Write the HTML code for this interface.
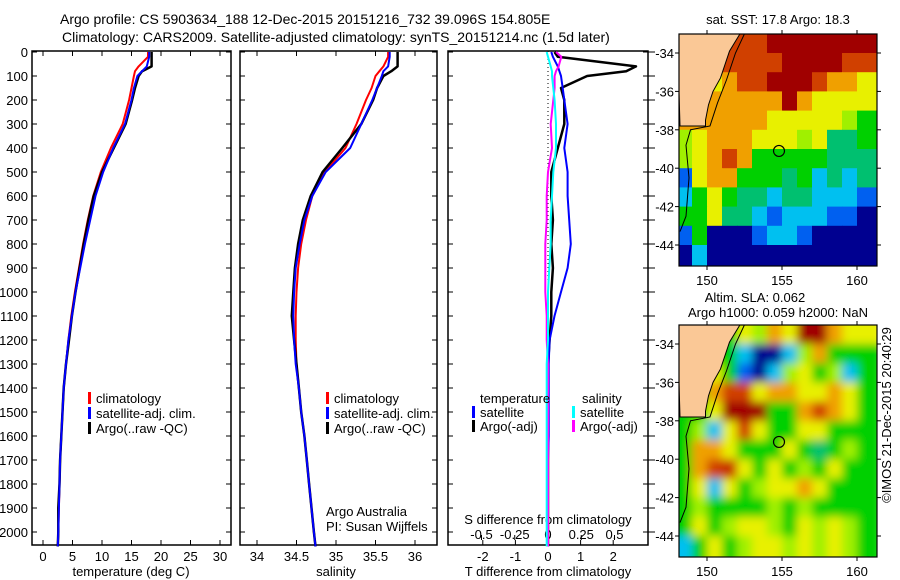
<!DOCTYPE html>
<html><head><meta charset="utf-8"><style>
body{margin:0;background:#fff}
svg{display:block;font-family:"Liberation Sans",sans-serif}
text{fill:#000}
</style></head><body>
<svg id="s" width="900" height="580" viewBox="0 0 900 580" xmlns="http://www.w3.org/2000/svg">
<defs>
<filter id="blur" x="-10%" y="-10%" width="120%" height="120%"><feGaussianBlur stdDeviation="4.5"/></filter>
<clipPath id="clip1"><rect x="679" y="34" width="198" height="232"/></clipPath>
<clipPath id="clip2"><rect x="679" y="325" width="198" height="232"/></clipPath>
</defs>
<text x="60" y="24" font-size="14">Argo profile: CS 5903634_188 12-Dec-2015 20151216_732 39.096S 154.805E</text>
<text x="62" y="42" font-size="14">Climatology: CARS2009. Satellite-adjusted climatology: synTS_20151214.nc (1.5d later)</text>
<g id="g"></g>
</svg>
<script>
// ---- data ----
const depthTicks=[0,100,200,300,400,500,600,700,800,900,1000,1100,1200,1300,1400,1500,1600,1700,1800,1900,2000];
const tTicks=[0,5,10,15,20,25,30];
const sTicks=[34,34.5,35,35.5,36];
const dTTicks=[-2,-1,0,1,2];
const dSTicks=[-0.5,-0.25,0,0.25,0.5];
const dSTickLabels=["-0.5","-0.25","0","0.25","0.5"];
const depths=[0,20,60,80,100,150,200,300,400,500,600,700,800,900,1000,1100,1200,1300,1400,1500,1600,1700,1800,1900,2000,2060];
const tClim=[17.8,17.8,16.2,15.6,15.4,15.0,14.6,13.5,11.5,9.8,8.5,7.6,6.8,6.1,5.4,4.8,4.3,3.9,3.5,3.3,3.1,2.9,2.8,2.7,2.6,2.5];
const tSat=[18.0,18.0,17.6,16.8,16.0,15.4,15.0,13.9,11.9,10.2,8.9,8.0,7.1,6.3,5.5,4.9,4.3,3.9,3.5,3.3,3.1,2.9,2.8,2.7,2.6,2.5];
const tArgo=[18.4,18.4,18.4,16.8,16.2,15.6,15.1,14.0,12.0,10.0,8.6,7.7,6.9,6.2,5.5,4.9,4.4,3.9,3.5,3.3,3.1,2.9,2.8,2.6,2.6,2.5];
const sClim=[35.66,35.66,35.6,35.55,35.5,35.45,35.38,35.26,35.12,34.86,34.7,34.62,34.56,34.52,34.5,34.49,34.49,34.5,34.53,34.56,34.6,34.63,34.66,34.69,34.72,34.74];
const sSat=[35.68,35.68,35.66,35.6,35.58,35.52,35.46,35.32,35.18,34.87,34.7,34.6,34.54,34.49,34.47,34.46,34.47,34.49,34.53,34.56,34.6,34.63,34.66,34.69,34.72,34.74];
const sArgo=[35.78,35.78,35.78,35.7,35.6,35.52,35.47,35.32,35.08,34.83,34.68,34.58,34.52,34.48,34.46,34.44,34.47,34.5,34.53,34.56,34.6,34.63,34.66,34.69,34.72,34.74];
const dTSat=[0.1,0.15,0.3,0.35,0.4,0.45,0.5,0.6,0.5,0.6,0.6,0.65,0.7,0.6,0.4,0.2,0.05,0.02,0.02,0.02,0.02,0.0,0.0,0.0,0.0,0.0];
const dTArgo=[0.2,0.3,2.7,2.4,1.2,0.4,0.5,0.5,0.3,0.1,0.1,0.15,0.1,0.15,0.1,0.1,0.05,0.0,0.0,0.0,0.0,0.0,0.0,0.0,0.0,0.0];
const dSSat=[-0.01,0.0,0.02,0.03,0.03,0.04,0.05,0.06,0.06,0.04,0.03,0.02,0.02,0.01,0.0,0.0,0.0,-0.01,-0.01,-0.01,-0.01,-0.01,-0.01,-0.01,-0.01,-0.01];
const dSArgo=[0.06,0.1,0.08,0.06,0.05,0.05,0.04,0.02,0.03,0.0,-0.01,-0.01,-0.02,-0.02,-0.02,-0.01,-0.01,0.0,0.0,0.0,0.0,0.0,0.0,0.0,0.0,0.0];
const lonTicks=[150,155,160];
const latTicks=[-34,-36,-38,-40,-42,-44];
const sstGrid=["ooorrrRRRRRRR","ooorrrrRRRRrr","yyyorrRRRrooy","oooooooRoyyyy","ooooooyyyyylg","lyoooyyylyGGg","lyorogggggGGG","byoogggGgcGcG","cgygGGcGGcccb","ggyGGcbcccbbn","bgnnnbccbnnnn","ncnnnnnnnnnnn"];
const slaGrid=["ggggyloyRRoyy","ggggcnncloggg","ggygbnclyglcg","ggorryooyyoyg","ggyRRRggoroyg","glcyryggyyggg","gooygggygGglg","gorpygyglgygg","gycyglyyoyggg","glgggglglgggg","gyglyylgylylg","cgyglyylylylg"];
// ---- helpers ----
const NS="http://www.w3.org/2000/svg";const G=document.getElementById('g');
function mk(t,a,p){const e=document.createElementNS(NS,t);for(const k in a)e.setAttribute(k,a[k]);(p||G).appendChild(e);return e;}
const Y=d=>52+d*0.24;
const xT=v=>43+v*5.9, xS=v=>257+(v-34)*79, xD=v=>548+v*32.6, xDS=v=>548+v*133;
const panels=[[32,231],[240,437],[448,648]];
const names=['temperature-panel','salinity-panel','difference-panel'];
panels.forEach((p,i)=>{
  const r=mk('rect',{x:p[0],y:51,width:p[1]-p[0],height:494,fill:'none',stroke:'#000','stroke-width':1.5});
  
  
  depthTicks.forEach(d=>{mk('line',{x1:p[0],x2:p[0]+5,y1:Y(d),y2:Y(d),stroke:'#000'});mk('line',{x1:p[1],x2:p[1]-5,y1:Y(d),y2:Y(d),stroke:'#000'});});
});
depthTicks.forEach(d=>{mk('line',{x1:648,x2:655,y1:Y(d),y2:Y(d),stroke:'#000'});
  const t=mk('text',{x:28,y:Y(d)+5,'font-size':13,'text-anchor':'end'});t.textContent=d;
  
  });
function xaxis(ticks,fx,labels,y,top){ticks.forEach((v,i)=>{const x=fx(v);
  mk('line',{x1:x,x2:x,y1:545,y2:540,stroke:'#000'});if(top)mk('line',{x1:x,x2:x,y1:51,y2:56,stroke:'#000'});
  const t=mk('text',{x:x,y:y,'font-size':13,'text-anchor':'middle'});t.textContent=labels?labels[i]:v;
  
  });}
xaxis(tTicks,xT,null,561,true);xaxis(sTicks,xS,null,561,true);xaxis(dTTicks,xD,null,561,false);
dSTicks.forEach((v,i)=>{const x=xDS(v);mk('line',{x1:x,x2:x,y1:535,y2:540,stroke:'#000'});
  const t=mk('text',{x:x,y:539,'font-size':13,'text-anchor':'middle'});t.textContent=dSTickLabels[i];
  
  });
function lbl(x,y,s,nm,anchor){const t=mk('text',{x:x,y:y,'font-size':13,'text-anchor':anchor||'middle'});t.textContent=s;
  
  return t;}
lbl(131,576,'temperature (deg C)','x-axis-title-temperature');
lbl(336,576,'salinity','x-axis-title-salinity');
lbl(548,576,'T difference from climatology','x-axis-title-t-diff');
lbl(548,524,'S difference from climatology','x-axis-title-s-diff');
lbl(326,516,'Argo Australia','credit-line-1','start');
lbl(326,531,'PI: Susan Wijffels','credit-line-2','start');
mk('line',{x1:548,x2:548,y1:51,y2:545,stroke:'#000','stroke-dasharray':'1,3'});
function line(vals,fx,col,w,nm){const pts=vals.map((v,i)=>fx(v).toFixed(1)+','+Y(depths[i]).toFixed(1)).join(' ');
  const e=mk('polyline',{points:pts,fill:'none',stroke:col,'stroke-width':w,'stroke-linejoin':'round'});
  
  }
line(tClim,xT,'#f00',2,'temp-climatology-line');line(tArgo,xT,'#000',2.5,'temp-argo-line');line(tSat,xT,'#00f',2,'temp-satellite-line');
line(sClim,xS,'#f00',2,'sal-climatology-line');line(sArgo,xS,'#000',2.5,'sal-argo-line');line(sSat,xS,'#00f',2,'sal-satellite-line');
line(dTArgo,xD,'#000',2.5,'tdiff-argo-line');line(dTSat,xD,'#00f',2,'tdiff-satellite-line');
line(dSArgo,xDS,'#f0f',2,'sdiff-argo-line');line(dSSat,xDS,'#0ff',2,'sdiff-satellite-line');
function leg(x,y,col,s,nm){mk('rect',{x:x,y:y-11,width:3,height:12,fill:col});
  const t=mk('text',{x:x+8,y:y,'font-size':13});t.textContent=s;
  
  }
[[88,'climatology','#f00',403],[88,'satellite-adj. clim.','#00f',418],[88,'Argo(..raw -QC)','#000',433]].forEach(a=>{leg(a[0],a[3],a[2],a[1],'legend-temp-'+a[1].slice(0,4));leg(a[0]+238,a[3],a[2],a[1],'legend-sal-'+a[1].slice(0,4));});
lbl(480,403,'temperature','legend-header-temperature','start');
lbl(582,403,'salinity','legend-header-salinity','start');
leg(472,417,'#00f','satellite','legend-tdiff-satellite');leg(472,431,'#000','Argo(-adj)','legend-tdiff-argo');
leg(572,417,'#0ff','satellite','legend-sdiff-satellite');leg(572,431,'#f0f','Argo(-adj)','legend-sdiff-argo');
// ---- maps ----
const COL={L:'#fac896',R:'#a00000',r:'#d04000',p:'#c83000',o:'#f0a000',y:'#e8f000',l:'#a0f000',g:'#00d000',G:'#00c070',c:'#00c0f0',b:'#0060f0',n:'#000090'};
function map(top,grid,nm,clip,blur){const x0=679,x1=877,lonX=l=>707+(l-150)*15,latY=la=>top+19+(-34-la)*19.2;
  const outer=mk('g',{'clip-path':'url(#'+clip+')'});
  const cells=mk('g',blur?{filter:'url(#blur)'}:{},outer);
  grid.forEach((row,ri)=>{for(let ci=0;ci<13;ci++){const ch=row[ci]||'g';const lx=lonX(148+ci)-(ci==0?10:0),rx=lonX(149+ci)+(ci==12?10:0);
    const ty=latY(-33-ri)-(ri==0?10:0),by=latY(-34-ri)+(ri==11?10:0);mk('rect',{x:lx,y:ty,width:rx-lx+0.5,height:by-ty+0.5,fill:COL[ch]},cells);}});
  const coast=[[152.2,-33],[151.5,-33.9],[151.2,-34.6],[150.9,-35.3],[150.4,-36.0],[150.1,-36.7],[149.9,-37.5],[149.9,-37.8],[148.2,-37.8]];
  mk('polygon',{points:coast.map(c=>lonX(c[0])+','+latY(c[1])).join(' ')+' '+lonX(148)+','+latY(-32.5)+' '+lonX(152.5)+','+latY(-32.5),fill:COL.L,stroke:'#000','stroke-width':1},outer);
  const shelf=[[152.5,-33],[151.9,-34],[151.3,-35.4],[150.7,-36.6],[150.2,-37.8],[148.9,-38.0],[148.6,-38.8],[148.8,-40.5],[148.6,-42.5],[148.2,-43.3]];
  mk('polyline',{points:shelf.map(c=>lonX(c[0])+','+latY(c[1])).join(' '),fill:'none',stroke:'#000','stroke-width':1},outer);
  mk('circle',{cx:lonX(154.8),cy:latY(-39.1),r:5.5,fill:'none',stroke:'#000','stroke-width':1.2});
  const f=mk('rect',{x:x0,y:top,width:x1-x0,height:232,fill:'none',stroke:'#000','stroke-width':1.2});
  
  
  lonTicks.forEach(l=>{mk('line',{x1:lonX(l),x2:lonX(l),y1:top,y2:top-4,stroke:'#000'});mk('line',{x1:lonX(l),x2:lonX(l),y1:top+232,y2:top+236,stroke:'#000'});
    lbl(lonX(l),top+251,l,'lon-tick-label');});
  latTicks.forEach(la=>{mk('line',{x1:x0,x2:x0-4,y1:latY(la),y2:latY(la),stroke:'#000'});mk('line',{x1:x1,x2:x1+4,y1:latY(la),y2:latY(la),stroke:'#000'});
    lbl(674,latY(la)+5,la,'lat-tick-label','end');});}
map(34,sstGrid,'sst-map','clip1',false);map(325,slaGrid,'sla-map','clip2',true);
lbl(778,24,'sat. SST: 17.8 Argo: 18.3','sst-map-title');
lbl(755,302,'Altim. SLA: 0.062','sla-map-title-1');
lbl(778,317,'Argo h1000: 0.059 h2000: NaN','sla-map-title-2');
const im=lbl(0,0,'©IMOS 21-Dec-2015 20:40:29','timestamp','middle');im.setAttribute('transform','translate(891,415) rotate(-90)');
</script>
</body></html>
